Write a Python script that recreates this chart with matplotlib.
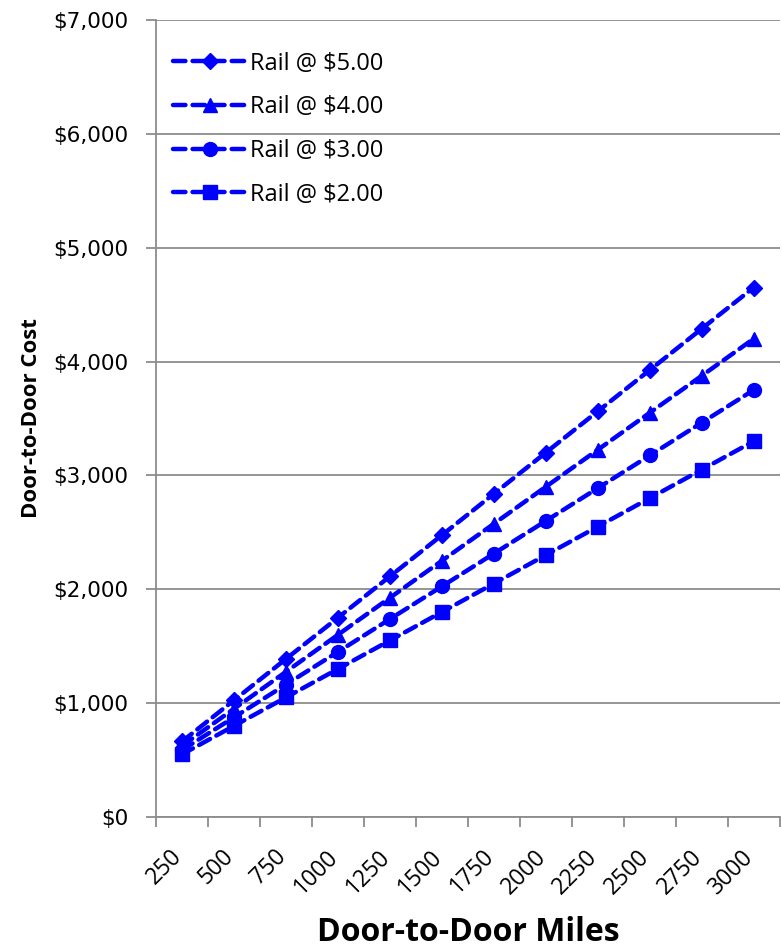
import matplotlib
matplotlib.use("Agg")
import matplotlib.pyplot as plt
from matplotlib.ticker import FuncFormatter, FixedLocator, NullFormatter
import matplotlib.transforms as mtransforms

# Door-to-door miles (category axis)
miles = [250, 500, 750, 1000, 1250, 1500, 1750, 2000, 2250, 2500, 2750, 3000]

# Door-to-door cost by rail rate
rail_5 = [663, 1025, 1388, 1750, 2113, 2475, 2838, 3200, 3563, 3925, 4288, 4650]
rail_4 = [625, 950, 1275, 1600, 1925, 2250, 2575, 2900, 3225, 3550, 3875, 4200]
rail_3 = [588, 875, 1163, 1450, 1738, 2025, 2313, 2600, 2888, 3175, 3463, 3750]
rail_2 = [550, 800, 1050, 1300, 1550, 1800, 2050, 2300, 2550, 2800, 3050, 3300]

series_labels = ["Rail @ $5.00", "Rail @ $4.00", "Rail @ $3.00", "Rail @ $2.00"]
series_values = [rail_5, rail_4, rail_3, rail_2]
series_markers = ["D", "^", "o", "s"]
marker_sizes = [8, 10, 10, 9.5]

blue = "#0000FF"
grid_gray = "#8C8C8C"

fig = plt.figure(figsize=(7.82, 9.47), dpi=100)
ax = fig.add_axes([0.1995, 0.1373, 0.7975, 0.8416])

pos = list(range(len(miles)))
for vals, lab, mk, ms in zip(series_values, series_labels, series_markers, marker_sizes):
    ax.plot(pos, vals, color=blue, lw=3.2, ls=(0, (2.8, 1.6)),
            dash_capstyle="round", marker=mk, markersize=ms,
            markerfacecolor=blue, markeredgecolor=blue, label=lab, zorder=3)

ax.set_xlim(-0.5, len(miles) - 0.5)
ax.set_ylim(0, 7000)

# y axis
ax.set_yticks(range(0, 7001, 1000))
ax.yaxis.set_major_formatter(FuncFormatter(lambda v, p: "${:,.0f}".format(v)))
ax.yaxis.grid(True, color=grid_gray, lw=1.3)
ax.set_axisbelow(True)
ax.tick_params(axis="y", direction="out", length=7, width=1.3, color=grid_gray,
               labelsize=15.5, pad=13)
for t in ax.get_yticklabels():
    t.set_fontfamily("DejaVu Sans")

# x axis: tick marks between categories, labels at category centers
ax.set_xticks(pos)
ax.set_xticklabels([str(m) for m in miles], rotation=45, ha="right", va="top",
                   rotation_mode="anchor", fontsize=16.5, fontfamily="Open Sans")
ax.tick_params(axis="x", which="major", length=0, pad=20)
ax.xaxis.set_minor_locator(FixedLocator([p - 0.5 for p in range(len(miles) + 1)]))
ax.xaxis.set_minor_formatter(NullFormatter())
ax.tick_params(axis="x", which="minor", direction="out", length=7, width=1.3,
               color=grid_gray)
offset = mtransforms.ScaledTranslation(-0.12, 0, fig.dpi_scale_trans)
for t in ax.get_xticklabels():
    t.set_transform(t.get_transform() + offset)

for side in ("top", "right"):
    ax.spines[side].set_visible(False)
for side in ("left", "bottom"):
    ax.spines[side].set_color(grid_gray)
    ax.spines[side].set_linewidth(1.3)

ax.set_xlabel("Door-to-Door Miles", fontsize=23, fontweight="bold",
              fontfamily="Open Sans", labelpad=12)
ax.set_ylabel("Door-to-Door Cost", fontsize=16, fontweight="bold",
              fontfamily="Open Sans", labelpad=8)

leg = ax.legend(loc="upper left", frameon=False,
                prop={"family": "Open Sans", "size": 17},
                handlelength=3.1, handletextpad=0.15, labelspacing=0.83,
                borderaxespad=0.0, bbox_to_anchor=(0.012, 0.972))

fig.savefig("out.png", dpi=100)
